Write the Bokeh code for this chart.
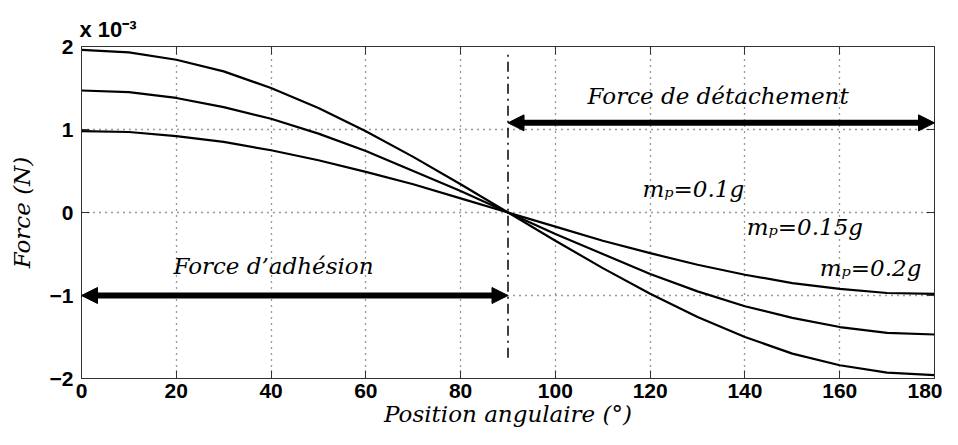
from bokeh.plotting import figure
from bokeh.models import (Arrow, NormalHead, LinearAxis, Range1d,
                          FixedTicker, CustomJSTickFormatter)
from bokeh.core.properties import value
from bokeh.embed import file_html
from bokeh.resources import INLINE

# Angular position (degrees)
angle = [0, 10, 20, 30, 40, 50, 60, 70, 80, 90, 100, 110, 120, 130, 140, 150, 160, 170, 180]
# Force (x 10^-3 N) for each particle mass
force_01g = [0.98, 0.97, 0.92, 0.85, 0.75, 0.63, 0.49, 0.34, 0.17, 0.0,
             -0.17, -0.34, -0.49, -0.63, -0.75, -0.85, -0.92, -0.97, -0.98]
force_015g = [1.47, 1.45, 1.38, 1.27, 1.13, 0.95, 0.74, 0.50, 0.26, 0.0,
              -0.26, -0.50, -0.74, -0.95, -1.13, -1.27, -1.38, -1.45, -1.47]
force_02g = [1.96, 1.93, 1.84, 1.70, 1.50, 1.26, 0.98, 0.67, 0.34, 0.0,
             -0.34, -0.67, -0.98, -1.26, -1.50, -1.70, -1.84, -1.93, -1.96]
series_labels = ["m\u209a=0.1g", "m\u209a=0.15g", "m\u209a=0.2g"]
x_ticks = [0, 20, 40, 60, 80, 100, 120, 140, 160, 180]
y_ticks = [-2, -1, 0, 1, 2]

SERIF = "DejaVu Serif"
SANS = "Liberation Sans"

p = figure(width=942, height=429, output_backend="svg", toolbar_location=None,
           x_range=Range1d(0, 180), y_range=Range1d(-2, 2),
           min_border_left=81, min_border_right=8, min_border_top=46, min_border_bottom=51)
p.background_fill_color = "white"
p.outline_line_color = "#333333"
p.outline_line_width = 1

p.title.text = "x 10\u207b\u00b3"
p.title.align = "left"
p.title.text_font = SANS
p.title.text_font_style = "bold"
p.title.text_font_size = "22px"
p.title.text_color = "black"
p.title.offset = -2
p.title.standoff = 9

for ax in (p.xaxis[0], p.yaxis[0]):
    ax.major_tick_in = 8
    ax.major_tick_out = 0
    ax.minor_tick_line_color = None
    ax.axis_line_color = "#333333"
    ax.major_tick_line_color = "#333333"
    ax.major_label_text_font = SANS
    ax.major_label_text_font_style = "bold"
    ax.major_label_text_font_size = "21px"
    ax.major_label_text_color = "black"
    ax.axis_label_text_font = SERIF
    ax.axis_label_text_font_style = "italic"
    ax.axis_label_text_font_size = "23px"
    ax.axis_label_text_color = "black"

p.xaxis.ticker = FixedTicker(ticks=x_ticks)
p.yaxis.ticker = FixedTicker(ticks=y_ticks)
p.xaxis.axis_label = "Position angulaire (°)"
p.yaxis.axis_label = "Force (N)"
p.xaxis.major_label_standoff = 5
p.yaxis.major_label_standoff = 8
p.xaxis.axis_label_standoff = 0
p.yaxis.axis_label_standoff = 12

# top / right axes with inside ticks only (box style)
blank = CustomJSTickFormatter(code="return ''")
top = LinearAxis(ticker=FixedTicker(ticks=x_ticks), formatter=blank,
                 major_tick_in=8, major_tick_out=0, minor_tick_line_color=None,
                 major_label_standoff=0,
                 axis_line_color="#333333", major_tick_line_color="#333333")
right = LinearAxis(ticker=FixedTicker(ticks=y_ticks), formatter=blank,
                   major_tick_in=8, major_tick_out=0, minor_tick_line_color=None,
                   major_label_standoff=0,
                   axis_line_color="#333333", major_tick_line_color="#333333")
p.add_layout(top, "above")
p.add_layout(right, "right")

p.xgrid.ticker = FixedTicker(ticks=x_ticks)
p.ygrid.ticker = FixedTicker(ticks=y_ticks)
for g in (p.xgrid[0], p.ygrid[0]):
    g.grid_line_color = "#333333"
    g.grid_line_dash = "1 5"
    g.grid_line_width = 1.3

# curves
for ys in (force_01g, force_015g, force_02g):
    p.line(angle, ys, line_color="black", line_width=2.2)

# vertical dash-dot line at 90 degrees
p.line([90, 90], [-1.75, 1.95], line_color="black", line_width=1.5, line_dash="10 5 2 5")

# arrows
p.add_layout(Arrow(x_start=0, y_start=-1, x_end=90, y_end=-1, line_width=6, line_color="black",
                   start=NormalHead(size=16, fill_color="black", line_color="black"),
                   end=NormalHead(size=16, fill_color="black", line_color="black")))
p.add_layout(Arrow(x_start=90, y_start=1.08, x_end=180, y_end=1.08, line_width=6, line_color="black",
                   start=NormalHead(size=16, fill_color="black", line_color="black"),
                   end=NormalHead(size=16, fill_color="black", line_color="black")))

# annotation texts
p.text(x=[106.8], y=[1.40], text=["Force de détachement"], text_font=value(SERIF),
       text_font_style="italic", text_font_size="23px", text_baseline="middle", text_align="left",
       text_color="black")
p.text(x=[19.4], y=[-0.64], text=["Force d\u2019adhésion"], text_font=value(SERIF),
       text_font_style="italic", text_font_size="23px", text_baseline="middle", text_align="left",
       text_color="black")
p.text(x=[118.4, 140.4, 155.8], y=[0.28, -0.17, -0.67], text=series_labels, text_font=value(SERIF),
       text_font_style="italic", text_font_size="23px", text_baseline="middle", text_align="left",
       text_color="black")

open("out.html", "w").write(file_html(p, INLINE))
